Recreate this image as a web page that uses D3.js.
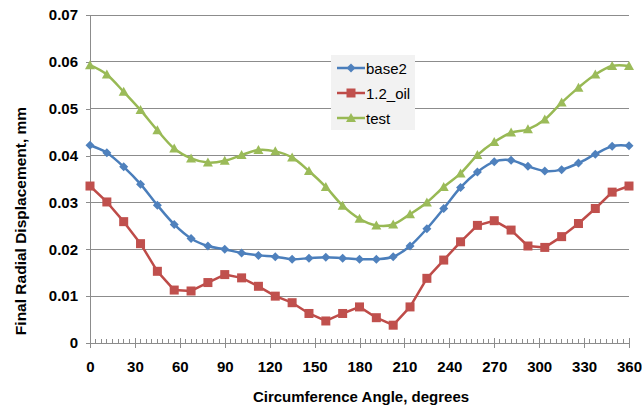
<!DOCTYPE html>
<html>
<head>
<meta charset="utf-8">
<script src="https://cdn.jsdelivr.net/npm/d3@7"></script>
<style>
  html, body { margin: 0; padding: 0; background: #fff; }
  svg { display: block; font-family: "Liberation Sans", Arial, sans-serif; }
</style>
</head>
<body>
<svg id="chart" width="642" height="408"></svg>
<script>
// Circumferential positions, every 11.25 degrees
const angles = d3.range(0, 33).map(i => i * 11.25);

const base2 = [0.0422, 0.0406, 0.0376, 0.0339, 0.0294, 0.0253, 0.0223, 0.0207, 0.0200,
  0.0192, 0.0187, 0.0184, 0.0179, 0.0181, 0.0183, 0.0181, 0.0179,
  0.0179, 0.0184, 0.0207, 0.0244, 0.0287, 0.0332, 0.0365, 0.0387,
  0.0390, 0.0377, 0.0367, 0.0370, 0.0384, 0.0403, 0.0420, 0.0421];

const oil12 = [0.0335, 0.0301, 0.0259, 0.0212, 0.0153, 0.0113, 0.0111, 0.0129, 0.0146,
  0.0139, 0.0121, 0.0100, 0.0086, 0.0063, 0.0047, 0.0063, 0.0077,
  0.0054, 0.0038, 0.0077, 0.0138, 0.0177, 0.0216, 0.0251, 0.0261,
  0.0241, 0.0207, 0.0204, 0.0227, 0.0255, 0.0287, 0.0322, 0.0335];

const test = [0.0593, 0.0573, 0.0536, 0.0497, 0.0454, 0.0415, 0.0394, 0.0385, 0.0389,
  0.0401, 0.0412, 0.0409, 0.0396, 0.0367, 0.0333, 0.0293, 0.0265,
  0.0251, 0.0253, 0.0275, 0.0300, 0.0333, 0.0362, 0.0401, 0.0429,
  0.0449, 0.0456, 0.0477, 0.0513, 0.0545, 0.0573, 0.0591, 0.0591];

const xTicks = [0, 30, 60, 90, 120, 150, 180, 210, 240, 270, 300, 330, 360];
const yTicks = [0, 0.01, 0.02, 0.03, 0.04, 0.05, 0.06, 0.07];

const series = [
  { name: "base2",   values: base2, line: "#4A7EBB", fill: "#4F81BD", shape: "diamond",  smooth: true },
  { name: "1.2_oil", values: oil12, line: "#BE4B48", fill: "#C0504D", shape: "square",   smooth: false },
  { name: "test",    values: test,  line: "#98B954", fill: "#9BBB59", shape: "triangle", smooth: true }
];

const svg = d3.select("#chart");
const x = d3.scaleLinear().domain([0, 360]).range([90, 629]);
const y = d3.scaleLinear().domain([0, 0.07]).range([343, 15]);

// Horizontal gridlines
svg.append("g")
  .selectAll("line")
  .data(yTicks.filter(t => t > 0))
  .join("line")
  .attr("x1", x(0)).attr("x2", x(360))
  .attr("y1", d => y(d)).attr("y2", d => y(d))
  .attr("stroke", "#8c8c8c").attr("stroke-width", 1)
  .attr("shape-rendering", "crispEdges");

// Y axis
const yAxis = svg.append("g")
  .attr("transform", `translate(${x(0)},0)`)
  .call(d3.axisLeft(y).tickValues(yTicks).tickSize(4).tickPadding(8)
    .tickFormat(d => d === 0 ? "0" : d3.format(".2f")(d)));
yAxis.select(".domain").attr("stroke", "#8c8c8c").attr("shape-rendering", "crispEdges");
yAxis.selectAll(".tick line").attr("stroke", "#8c8c8c").attr("shape-rendering", "crispEdges");
yAxis.selectAll(".tick text")
  .attr("font-family", "Liberation Sans, Arial, sans-serif")
  .attr("font-size", 15).attr("font-weight", "bold").attr("fill", "#000");

// X axis: minor ticks every 3.75 degrees, major every 30
const minor = d3.range(0, 361, 3.75).filter(v => v % 30 !== 0);
svg.append("g")
  .selectAll("line")
  .data(minor)
  .join("line")
  .attr("x1", d => x(d)).attr("x2", d => x(d))
  .attr("y1", y(0) - 4).attr("y2", y(0))
  .attr("stroke", "#8c8c8c").attr("shape-rendering", "crispEdges");

const xAxis = svg.append("g")
  .attr("transform", `translate(0,${y(0)})`)
  .call(d3.axisBottom(x).tickValues(xTicks).tickSizeInner(5).tickSizeOuter(0).tickPadding(13)
    .tickFormat(d3.format("d")));
xAxis.select(".domain").attr("stroke", "#8c8c8c").attr("shape-rendering", "crispEdges");
xAxis.selectAll(".tick line").attr("y1", -5).attr("y2", 5)
  .attr("stroke", "#8c8c8c").attr("shape-rendering", "crispEdges");
xAxis.selectAll(".tick text")
  .attr("font-family", "Liberation Sans, Arial, sans-serif")
  .attr("font-size", 15).attr("font-weight", "bold").attr("fill", "#000");

// Axis titles
svg.append("text")
  .attr("x", 361).attr("y", 402)
  .attr("text-anchor", "middle")
  .attr("font-size", 15).attr("font-weight", "bold")
  .text("Circumference Angle, degrees");

svg.append("text")
  .attr("transform", "translate(26,221) rotate(-90)")
  .attr("text-anchor", "middle")
  .attr("font-size", 15.5).attr("font-weight", "bold")
  .text("Final Radial Displacement, mm");

// Marker shapes
function marker(sel, shape, fill) {
  if (shape === "square") {
    sel.append("rect").attr("x", -4.5).attr("y", -4.5).attr("width", 9).attr("height", 9)
      .attr("fill", fill);
  } else if (shape === "diamond") {
    sel.append("path").attr("d", "M0,-4.5L4.5,0L0,4.5L-4.5,0Z").attr("fill", fill);
  } else {
    sel.append("path").attr("d", "M0,-5L5,4L-5,4Z").attr("fill", fill);
  }
}

// Series lines and markers
series.forEach(s => {
  const pts = angles.map((a, i) => [a, s.values[i]]);
  const line = d3.line()
    .x(d => x(d[0])).y(d => y(d[1]))
    .curve(s.smooth ? d3.curveCatmullRom.alpha(0) : d3.curveLinear);
  svg.append("path")
    .datum(pts)
    .attr("d", line)
    .attr("fill", "none")
    .attr("stroke", s.line)
    .attr("stroke-width", 2.5)
    .attr("stroke-linejoin", "round");
  const g = svg.append("g");
  pts.forEach(p => {
    const m = g.append("g").attr("transform", `translate(${x(p[0])},${y(p[1])})`);
    marker(m, s.shape, s.fill);
  });
});

// Legend
const legend = svg.append("g");
legend.append("rect")
  .attr("x", 331).attr("y", 55).attr("width", 84).attr("height", 75)
  .attr("fill", "#f2f2f2");
series.forEach((s, i) => {
  const ly = 68 + i * 25;
  legend.append("line")
    .attr("x1", 337).attr("x2", 365).attr("y1", ly).attr("y2", ly)
    .attr("stroke", s.line).attr("stroke-width", 2.5);
  const m = legend.append("g").attr("transform", `translate(351,${ly})`);
  marker(m, s.shape, s.fill);
  legend.append("text")
    .attr("x", 366).attr("y", ly + 5.5)
    .attr("font-size", 15).attr("fill", "#000")
    .text(s.name);
});
</script>
</body>
</html>
